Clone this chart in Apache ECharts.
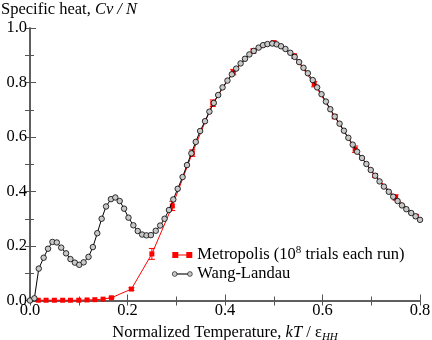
<!DOCTYPE html>
<html>
<head>
<meta charset="utf-8">
<script src="https://cdn.jsdelivr.net/npm/echarts@6/dist/echarts.min.js"></script>
<style>
html, body { margin: 0; padding: 0; background: #fff; }
#main { width: 432px; height: 340px; }
</style>
</head>
<body>
<div id="main"></div>
<script>
// Wang-Landau curve
var wlT = [0.000, 0.009, 0.018, 0.028, 0.037, 0.046, 0.055, 0.064, 0.074, 0.083,
  0.092, 0.101, 0.110, 0.120, 0.129, 0.138, 0.147, 0.156, 0.166, 0.175,
  0.184, 0.193, 0.202, 0.212, 0.221, 0.230, 0.239, 0.248, 0.258, 0.267,
  0.276, 0.285, 0.294, 0.303, 0.313, 0.322, 0.331, 0.340, 0.349, 0.359,
  0.368, 0.377, 0.386, 0.395, 0.405, 0.414, 0.423, 0.432, 0.441, 0.450,
  0.459, 0.469, 0.478, 0.487, 0.497, 0.506, 0.515, 0.524, 0.534, 0.543,
  0.552, 0.561, 0.570, 0.580, 0.589, 0.598, 0.607, 0.616, 0.625, 0.635,
  0.644, 0.653, 0.662, 0.671, 0.681, 0.690, 0.699, 0.708, 0.717, 0.726,
  0.736, 0.745, 0.754, 0.763, 0.772, 0.782, 0.791, 0.800];
var wlCv = [0.000, 0.008, 0.117, 0.157, 0.190, 0.215, 0.213, 0.194, 0.173, 0.152,
  0.139, 0.131, 0.140, 0.160, 0.196, 0.247, 0.300, 0.345, 0.372, 0.378,
  0.365, 0.337, 0.304, 0.276, 0.255, 0.242, 0.239, 0.240, 0.256, 0.275,
  0.300, 0.332, 0.371, 0.410, 0.453, 0.497, 0.540, 0.582, 0.622, 0.658,
  0.693, 0.725, 0.754, 0.782, 0.807, 0.830, 0.851, 0.870, 0.887, 0.903,
  0.916, 0.928, 0.937, 0.941, 0.943, 0.940, 0.933, 0.923, 0.909, 0.894,
  0.875, 0.854, 0.834, 0.809, 0.782, 0.757, 0.730, 0.702, 0.675, 0.649,
  0.623, 0.597, 0.572, 0.546, 0.523, 0.501, 0.479, 0.458, 0.437, 0.418,
  0.399, 0.381, 0.365, 0.349, 0.335, 0.321, 0.309, 0.296];

// Metropolis runs, with error bars
var mT = [0.017, 0.033, 0.050, 0.067, 0.083, 0.100, 0.117, 0.133, 0.150, 0.167,
  0.208, 0.250, 0.292, 0.333, 0.375, 0.417, 0.458, 0.500, 0.542, 0.583,
  0.625, 0.667, 0.708, 0.750, 0.792];
var mCv = [0.001, 0.001, 0.001, 0.001, 0.001, 0.001, 0.002, 0.003, 0.005, 0.010,
  0.042, 0.171, 0.347, 0.541, 0.724, 0.838, 0.915, 0.945, 0.897, 0.794,
  0.675, 0.555, 0.458, 0.378, 0.309];
var mErr = [0, 0, 0, 0, 0, 0, 0, 0, 0, 0.002,
  0.005, 0.020, 0.017, 0.012, 0.012, 0.010, 0.008, 0.008, 0.008, 0.010,
  0.008, 0.012, 0.006, 0.010, 0.005];

var names = ['Metropolis', 'Wang-Landau'];

var wlData = wlT.map(function (t, i) { return [t, wlCv[i]]; });
var mData = mT.map(function (t, i) { return [t, mCv[i]]; });
var errData = mT.map(function (t, i) { return [t, mCv[i], mErr[i]]; });

var font = 'Liberation Serif';
var fs = 16.5;
var axisColor = '#555';

var myChart = echarts.init(document.getElementById('main'));

var option = {
  animation: false,
  backgroundColor: '#fff',
  textStyle: { fontFamily: font },
  title: {
    text: 'Specific heat, {i|Cv / N}',
    left: 1,
    top: 1,
    padding: 0,
    textStyle: {
      fontFamily: font, fontSize: fs, fontWeight: 'normal', color: '#000',
      rich: { i: { fontFamily: font, fontSize: fs, fontStyle: 'italic', color: '#000' } }
    }
  },
  grid: { left: 30, right: 12, top: 28, bottom: 39.5, outerBoundsMode: 'none' },
  legend: {
    orient: 'vertical',
    left: 172,
    top: 245,
    padding: 0,
    itemGap: 2,
    itemWidth: 20,
    itemHeight: 6,
    data: [
      { name: names[0], icon: 'path://M0,0h6v6h-6z M6,2.5h8v1h-8z M14,0h6v6h-6z' },
      { name: names[1], icon: 'path://M0.8,3a2.2,2.2 0 1,0 4.4,0a2.2,2.2 0 1,0 -4.4,0z M5.2,2.8h9.6v0.4h-9.6z M14.8,3a2.2,2.2 0 1,0 4.4,0a2.2,2.2 0 1,0 -4.4,0z',
        itemStyle: { borderWidth: 0.6 } }
    ],
    formatter: function (n) {
      if (n === names[0]) return '{a|Metropolis (10}{s|8}{a| trials each run)}';
      return '{a|Wang-Landau}';
    },
    textStyle: {
      fontFamily: font, fontSize: fs, color: '#000',
      rich: {
        a: { fontFamily: font, fontSize: fs, color: '#000' },
        s: { fontFamily: font, fontSize: 11, color: '#000', padding: [0, 0, 9, 0] }
      }
    }
  },
  xAxis: [{
    type: 'value', min: 0, max: 0.8, interval: 0.2, position: 'bottom',
    name: 'Normalized Temperature, {i|kT} / {e|ε}{sub|HH}',
    nameLocation: 'middle', nameGap: 18,
    nameTextStyle: {
      fontFamily: font, fontSize: fs, color: '#000',
      rich: {
        i: { fontFamily: font, fontSize: fs, fontStyle: 'italic', color: '#000' },
        e: { fontFamily: font, fontSize: fs, color: '#000' },
        sub: { fontFamily: font, fontSize: 11, fontStyle: 'italic', color: '#000', padding: [8, 0, 0, 0] }
      }
    },
    axisLine: { lineStyle: { color: axisColor, width: 1.5 } },
    axisTick: { inside: true, length: 6, lineStyle: { color: axisColor } },
    minorTick: { show: true, splitNumber: 2, length: 4, lineStyle: { color: axisColor } },
    axisLabel: { fontFamily: font, fontSize: fs, color: '#000', margin: 2, formatter: function (v) { return v.toFixed(1); } },
    splitLine: { show: false }
  }, {
    type: 'value', min: 0, max: 0.8, interval: 0.1, position: 'top',
    axisLine: { lineStyle: { color: axisColor, width: 1.5 } },
    axisTick: { inside: true, length: 5, lineStyle: { color: axisColor } },
    axisLabel: { show: false },
    splitLine: { show: false }
  }],
  yAxis: [{
    type: 'value', min: 0, max: 1, interval: 0.2, position: 'left',
    axisLine: { show: true, lineStyle: { color: axisColor, width: 1.5 } },
    axisTick: { show: true, inside: true, length: 6, lineStyle: { color: axisColor } },
    minorTick: { show: true, splitNumber: 2, length: 4, lineStyle: { color: axisColor } },
    axisLabel: { fontFamily: font, fontSize: fs, color: '#000', margin: 3, formatter: function (v) { return v.toFixed(1); } },
    splitLine: { show: false }
  }, {
    type: 'value', min: 0, max: 1, interval: 0.1, position: 'right',
    axisLine: { show: true, lineStyle: { color: axisColor, width: 1.5 } },
    axisTick: { show: true, inside: true, length: 5, lineStyle: { color: axisColor } },
    axisLabel: { show: false },
    splitLine: { show: false }
  }],
  series: [{
    name: 'errors',
    type: 'custom',
    z: 2,
    data: errData,
    encode: { x: 0, y: 1 },
    renderItem: function (params, api) {
      var x = api.value(0), y = api.value(1), e = api.value(2);
      if (!e) return null;
      var p1 = api.coord([x, y + e]);
      var p2 = api.coord([x, y - e]);
      var w = 3;
      var st = { stroke: '#ff0000', lineWidth: 1 };
      return {
        type: 'group',
        children: [
          { type: 'line', shape: { x1: p1[0], y1: p1[1], x2: p2[0], y2: p2[1] }, style: st },
          { type: 'line', shape: { x1: p1[0] - w, y1: p1[1], x2: p1[0] + w, y2: p1[1] }, style: st },
          { type: 'line', shape: { x1: p2[0] - w, y1: p2[1], x2: p2[0] + w, y2: p2[1] }, style: st }
        ]
      };
    }
  }, {
    name: names[0],
    type: 'line',
    z: 3,
    data: mData,
    symbol: 'rect',
    symbolSize: 5,
    showAllSymbol: true,
    lineStyle: { color: '#ff0000', width: 1 },
    itemStyle: { color: '#ff0000', borderWidth: 0 }
  }, {
    name: names[1],
    type: 'line',
    z: 4,
    data: wlData,
    symbol: 'circle',
    symbolSize: 5.5,
    showAllSymbol: true,
    lineStyle: { color: '#000', width: 1 },
    itemStyle: { color: '#c8c8c8', borderColor: '#000', borderWidth: 0.8 }
  }]
};

myChart.setOption(option);
</script>
</body>
</html>
